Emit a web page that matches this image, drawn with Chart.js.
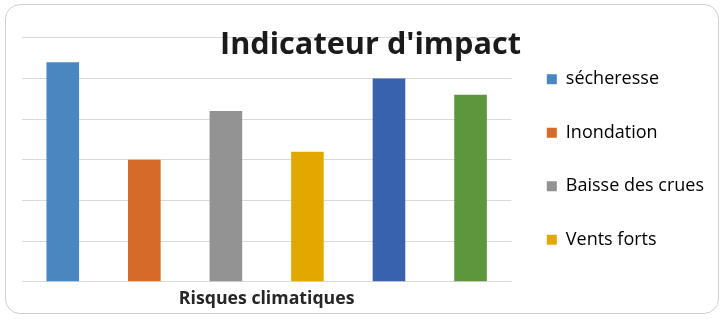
<!DOCTYPE html>
<html>
<head>
<meta charset="utf-8">
<script src="https://cdn.jsdelivr.net/npm/chart.js@4/dist/chart.umd.min.js"></script>
<style>
  html, body { margin: 0; padding: 0; background: #ffffff; }
  #wrap { position: relative; width: 724px; height: 319px; }
  #frame { position: absolute; left: 5px; top: 4px; width: 714px; height: 310px;
           border: 1px solid #cfcfcf; border-radius: 15px; box-sizing: border-box; }
  #c { position: absolute; left: 0; top: 0; }
</style>
</head>
<body>
<div id="wrap">
  <div id="frame"></div>
  <canvas id="c" width="724" height="319"></canvas>
</div>
<script>
// ---- data ----
const categories = ['sécheresse', 'Inondation', 'Baisse des crues', 'Vents forts', 'Série 5', 'Série 6'];
const values = [5.4, 3.0, 4.2, 3.2, 5.0, 4.6];
const colors = ['#4a86c0', '#d56a29', '#939393', '#e3a800', '#3862ae', '#5e963e'];
const legendCount = 4;
const chartTitle = "Indicateur d'impact";
const axisTitle = 'Risques climatiques';
const yMin = 0, yMax = 6, yStep = 1;

// move the library-drawn title to its place over the plot (as in the reference)
const titlePlacer = {
  id: 'titlePlacer',
  afterLayout(chart) {
    const t = chart.titleBlock;
    if (!t) return;
    const h = t.bottom - t.top;
    t.left = 220; t.right = 521;
    t.top = 30; t.bottom = 30 + h;
  }
};

new Chart(document.getElementById('c'), {
  type: 'bar',
  data: {
    labels: categories,
    datasets: [{
      data: values,
      backgroundColor: colors,
      borderWidth: 0,
      barPercentage: 0.4,
      categoryPercentage: 1.0
    }]
  },
  plugins: [titlePlacer],
  options: {
    responsive: false,
    animation: false,
    devicePixelRatio: 1,
    layout: { padding: { top: 7, bottom: 7, left: 22, right: 10 } },
    plugins: {
      tooltip: { enabled: false },
      title: {
        display: true,
        text: chartTitle,
        fullSize: false,
        color: '#1b1b1b',
        font: { family: 'Open Sans', weight: 'bold', size: 30.8, lineHeight: 1.0 },
        padding: { top: 0, bottom: 0 }
      },
      legend: {
        display: true,
        position: 'right',
        align: 'center',
        maxWidth: 260,
        labels: {
          boxWidth: 10,
          boxHeight: 10,
          padding: 35.5,
          color: '#404040',
          font: { family: 'Open Sans', size: 18 },
          generateLabels(chart) {
            return categories.slice(0, legendCount).map((name, i) => ({
              text: name,
              fillStyle: colors[i],
              strokeStyle: colors[i],
              lineWidth: 0,
              hidden: false,
              index: i
            }));
          }
        }
      }
    },
    scales: {
      x: {
        ticks: { display: false },
        grid: { display: false, drawTicks: false },
        border: { display: false },
        title: {
          display: true,
          text: axisTitle,
          color: '#262626',
          font: { family: 'Open Sans', weight: 'bold', size: 17.7, lineHeight: 1.2 },
          padding: { top: 6.5, bottom: 2.5 }
        }
      },
      y: {
        min: yMin,
        max: yMax,
        ticks: { display: false, stepSize: yStep },
        grid: { color: '#d9d9d9', lineWidth: 1, drawTicks: false },
        border: { display: false }
      }
    }
  }
});
</script>
</body>
</html>
